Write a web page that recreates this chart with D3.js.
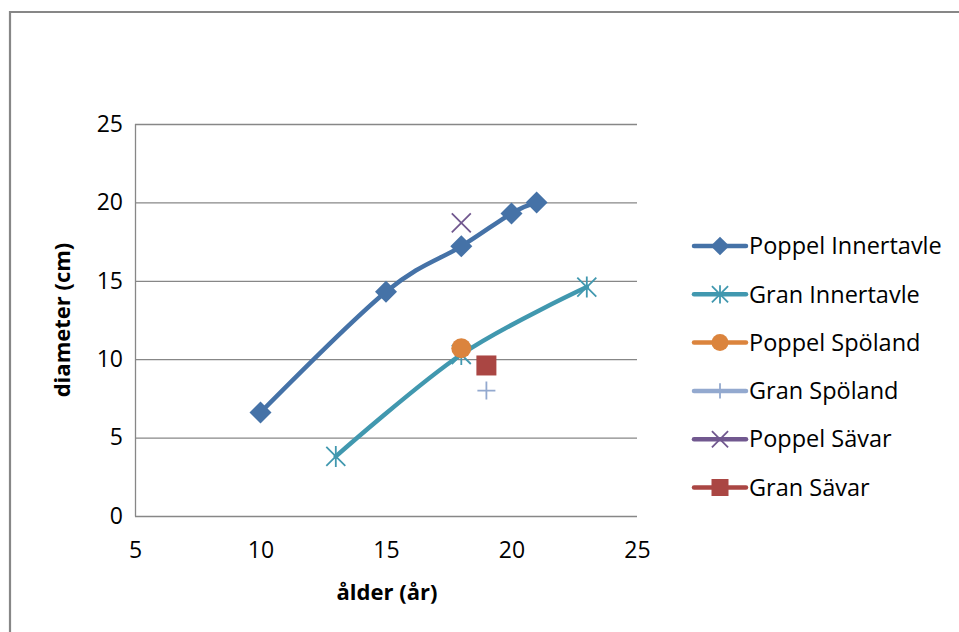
<!DOCTYPE html>
<html>
<head>
<meta charset="utf-8">
<script src="https://cdn.jsdelivr.net/npm/d3@7"></script>
<style>
html,body{margin:0;padding:0;background:#fff;}
svg{display:block;font-family:"Open Sans","Liberation Sans",sans-serif;}
</style>
</head>
<body>
<svg id="chart" width="959" height="632"></svg>
<script>
const seriesNames = ["Poppel Innertavle","Gran Innertavle","Poppel Spöland","Gran Spöland","Poppel Sävar","Gran Sävar"];
const seriesColors = ["#4572A7","#4198AF","#DB843D","#93A9CF","#71588F","#AA4643"];
const seriesSymbols = ["diamond","star","circle","plus","cross","square"];
const poppelInnertavle = [[10,6.6],[15,14.3],[18,17.2],[20,19.3],[21,20.0]];
const granInnertavle = [[13,3.8],[18,10.3],[23,14.6]];
const poppelSpoland = [[18,10.7]];
const granSpoland = [[19,8.0]];
const poppelSavar = [[18,18.7]];
const granSavar = [[19,9.6]];
const seriesData = [poppelInnertavle,granInnertavle,poppelSpoland,granSpoland,poppelSavar,granSavar];
const xTicks = [5,10,15,20,25];
const yTicks = [0,5,10,15,20,25];
const xLabel = "ålder (år)";
const yLabel = "diameter (cm)";

const svg = d3.select("#chart");
// outer chart border
svg.append("path").attr("d","M10,640 L10,12 L962,12")
  .attr("fill","none").attr("stroke","#878787").attr("stroke-width",2.2);

const x = d3.scaleLinear().domain([5,25]).range([135,637]);
const y = d3.scaleLinear().domain([0,25]).range([516,124]);

// gridlines
svg.append("g").selectAll("line").data(yTicks).join("line")
  .attr("x1",x(5)).attr("x2",x(25))
  .attr("y1",d=>y(d)+0.5).attr("y2",d=>y(d)+0.5)
  .attr("stroke","#878787").attr("stroke-width",1.3);
svg.append("line").attr("x1",x(5)+0.5).attr("x2",x(5)+0.5)
  .attr("y1",y(25)).attr("y2",y(0)+0.5)
  .attr("stroke","#878787").attr("stroke-width",1.3);

// axes using d3 axes, styled
const yAxis = svg.append("g").attr("transform",`translate(${x(5)},0)`)
  .call(d3.axisLeft(y).tickValues(yTicks).tickSize(0).tickPadding(12));
const xAxis = svg.append("g").attr("transform",`translate(0,${y(0)})`)
  .call(d3.axisBottom(x).tickValues(xTicks).tickSize(0).tickPadding(26));
[yAxis,xAxis].forEach(a=>{
  a.select(".domain").remove();
  a.attr("font-size",null).attr("font-family",null);
  a.selectAll("text").attr("font-size",23).attr("fill","#000")
    .attr("font-family","'Open Sans','Liberation Sans',sans-serif");
});
xAxis.selectAll("text").attr("dy","0.71em");

svg.append("text").attr("x",x(15)+1).attr("y",592).attr("dy","0.35em")
  .attr("text-anchor","middle").attr("font-size",22).attr("font-weight","bold")
  .text(xLabel);
svg.append("text").attr("transform",`translate(62,${y(12.5)}) rotate(-90)`)
  .attr("dy","0.35em")
  .attr("text-anchor","middle").attr("font-size",22).attr("font-weight","bold")
  .text(yLabel);

function drawMarker(g, type, color, cx, cy, scale){
  const s = scale||1;
  if(type==="diamond"){
    const r=11*s;
    g.append("path").attr("d",`M${cx},${cy-r}L${cx+r},${cy}L${cx},${cy+r}L${cx-r},${cy}Z`).attr("fill",color);
  } else if(type==="circle"){
    g.append("circle").attr("cx",cx).attr("cy",cy).attr("r",10*s).attr("fill",color);
  } else if(type==="square"){
    const r=10*s;
    g.append("rect").attr("x",cx-r).attr("y",cy-r).attr("width",2*r).attr("height",2*r).attr("fill",color);
  } else if(type==="plus"){
    const r=9*s;
    g.append("path").attr("d",`M${cx-r},${cy}L${cx+r},${cy}M${cx},${cy-r}L${cx},${cy+r}`)
      .attr("stroke",color).attr("stroke-width",1.8).attr("fill","none");
  } else if(type==="cross"){
    const r=9.5*s;
    g.append("path").attr("d",`M${cx-r},${cy-r}L${cx+r},${cy+r}M${cx+r},${cy-r}L${cx-r},${cy+r}`)
      .attr("stroke",color).attr("stroke-width",1.8).attr("fill","none");
  } else if(type==="star"){
    const r=9.5*s;
    g.append("path").attr("d",`M${cx-r},${cy-r}L${cx+r},${cy+r}M${cx+r},${cy-r}L${cx-r},${cy+r}M${cx},${cy-r-1}L${cx},${cy+r+1}`)
      .attr("stroke",color).attr("stroke-width",1.8).attr("fill","none");
  }
}

const line = d3.line().x(d=>x(d[0])).y(d=>y(d[1])).curve(d3.curveCardinal.tension(0));
const plot = svg.append("g");
seriesData.forEach((data,i)=>{
  if(data.length>1){
    plot.append("path").attr("d",line(data)).attr("fill","none")
      .attr("stroke",seriesColors[i]).attr("stroke-width",4.5).attr("stroke-linecap","round");
  }
});
seriesData.forEach((data,i)=>{
  data.forEach(d=>drawMarker(plot,seriesSymbols[i],seriesColors[i],x(d[0]),y(d[1])));
});

// legend
const legY0 = 246, legStep = 48.3;
const leg = svg.append("g");
seriesNames.forEach((name,i)=>{
  const yy = legY0 + i*legStep;
  leg.append("line").attr("x1",694).attr("x2",746).attr("y1",yy).attr("y2",yy)
    .attr("stroke",seriesColors[i]).attr("stroke-width",4.5).attr("stroke-linecap","round");
  drawMarker(leg,seriesSymbols[i],seriesColors[i],720,yy,0.85);
  leg.append("text").attr("x",749).attr("y",yy).attr("dy","0.35em")
    .attr("font-size",23.5).attr("fill","#000").text(name);
});
</script>
</body>
</html>
